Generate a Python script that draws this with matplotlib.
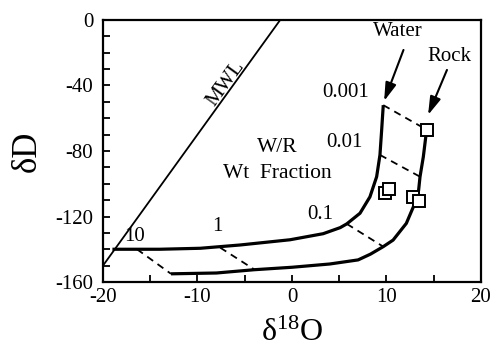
import numpy as np
import matplotlib
matplotlib.use("Agg")
import matplotlib.pyplot as plt
from matplotlib.ticker import MultipleLocator

plt.rcParams['font.family'] = ['Liberation Serif', 'DejaVu Serif']
plt.rcParams['mathtext.fontset'] = 'custom'
plt.rcParams['mathtext.rm'] = 'Liberation Serif'
plt.rcParams['mathtext.it'] = 'Liberation Serif:italic'
plt.rcParams['axes.unicode_minus'] = False

# meteoric water line: dD = 8 d18O + 10
mwl_x = [-20, -1.25]
mwl_y = [-150, 0]

# water composition path (d18O, dD)
water_x = [-19.0, -14.0, -9.7, -5.5, -0.2, 3.3, 5.1, 5.8, 7.2, 8.25, 8.96, 9.31, 9.49, 9.66]
water_y = [-140.0, -140.0, -139.4, -137.4, -134.2, -130.5, -126.8, -124.5, -118.0, -108.0, -95.7, -82.4, -67.2, -52.0]

# rock composition path
rock_x = [-12.8, -8.0, -4.0, 0.0, 4.0, 7.0, 8.3, 9.66, 10.7, 12.1, 13.0, 13.4, 13.55, 13.9, 14.25]
rock_y = [-155.0, -154.5, -152.5, -151.0, -149.0, -146.5, -143.0, -138.4, -134.4, -124.2, -112.0, -104.0, -95.7, -83.5, -67.0]

# tie lines for W/R weight fraction
wr_labels = ['10', '1', '0.1', '0.01', '0.001']
tie_water_x = [-16.4, -7.6, 5.8, 9.31, 9.66]
tie_water_y = [-140.0, -139.0, -124.5, -82.4, -52.0]
tie_rock_x = [-12.8, -4.0, 9.66, 13.55, 14.25]
tie_rock_y = [-155.0, -152.3, -138.4, -95.7, -67.0]
wr_label_x = [-16.7, -7.9, 2.96, 5.6, 5.66]
wr_label_y = [-132.5, -126.0, -119.0, -74.8, -44.3]

# measured samples
sample_x = [9.84, 10.3, 12.8, 13.47, 14.25]
sample_y = [-105.7, -103.4, -108.3, -110.3, -67.0]

fig = plt.figure(figsize=(4.92, 3.47), dpi=100)
ax = fig.add_axes([0.2093, 0.1873, 0.7683, 0.7551])

ax.plot(mwl_x, mwl_y, color='black', lw=1.3)
ax.plot(water_x, water_y, color='black', lw=2.3, solid_capstyle='butt')
ax.plot(rock_x, rock_y, color='black', lw=2.3, solid_capstyle='butt')

for i in range(len(wr_labels)):
    ax.plot([tie_water_x[i], tie_rock_x[i]], [tie_water_y[i], tie_rock_y[i]],
            color='black', lw=1.3, ls=(0, (4, 3)))
    ax.text(wr_label_x[i], wr_label_y[i], wr_labels[i], fontsize=15,
            ha='center', va='center')

ax.plot(sample_x, sample_y, 's', ms=9, mfc='white', mec='black', mew=1.4, zorder=5)

ax.text(-7.0, -39, 'MWL', fontsize=15, rotation=54, ha='center', va='center')
ax.text(-1.6, -78, 'W/R', fontsize=15.5, ha='center', va='center')
ax.text(-1.6, -94, 'Wt  Fraction', fontsize=15.5, ha='center', va='center')

ax.text(11.2, -7.3, 'Water', fontsize=15, ha='center', va='center')
ax.text(16.7, -22, 'Rock', fontsize=15, ha='center', va='center')
arrow = dict(arrowstyle='-|>,head_length=0.5,head_width=0.15', mutation_scale=22,
             color='black', lw=1.5, shrinkA=0, shrinkB=0)
ax.annotate('', xy=(9.75, -49.5), xytext=(11.8, -18.3), arrowprops=arrow)
ax.annotate('', xy=(14.4, -58), xytext=(16.4, -30.5), arrowprops=arrow)

ax.set_xlim(-20, 20)
ax.set_ylim(-160, 0)
ax.xaxis.set_major_locator(MultipleLocator(10))
ax.xaxis.set_minor_locator(MultipleLocator(5))
ax.yaxis.set_major_locator(MultipleLocator(40))
ax.yaxis.set_minor_locator(MultipleLocator(10))
ax.tick_params(which='both', direction='in', length=5, width=1.3, top=False, right=False)
ax.tick_params(axis='x', pad=4, labelsize=15)
ax.tick_params(axis='y', pad=7, labelsize=15)
for s in ax.spines.values():
    s.set_linewidth(1.6)

ax.set_xlabel('δ$^{18}$O', fontsize=23, labelpad=9)
ax.set_ylabel('δD', fontsize=25, labelpad=8)

fig.savefig('out.png', dpi=100)
